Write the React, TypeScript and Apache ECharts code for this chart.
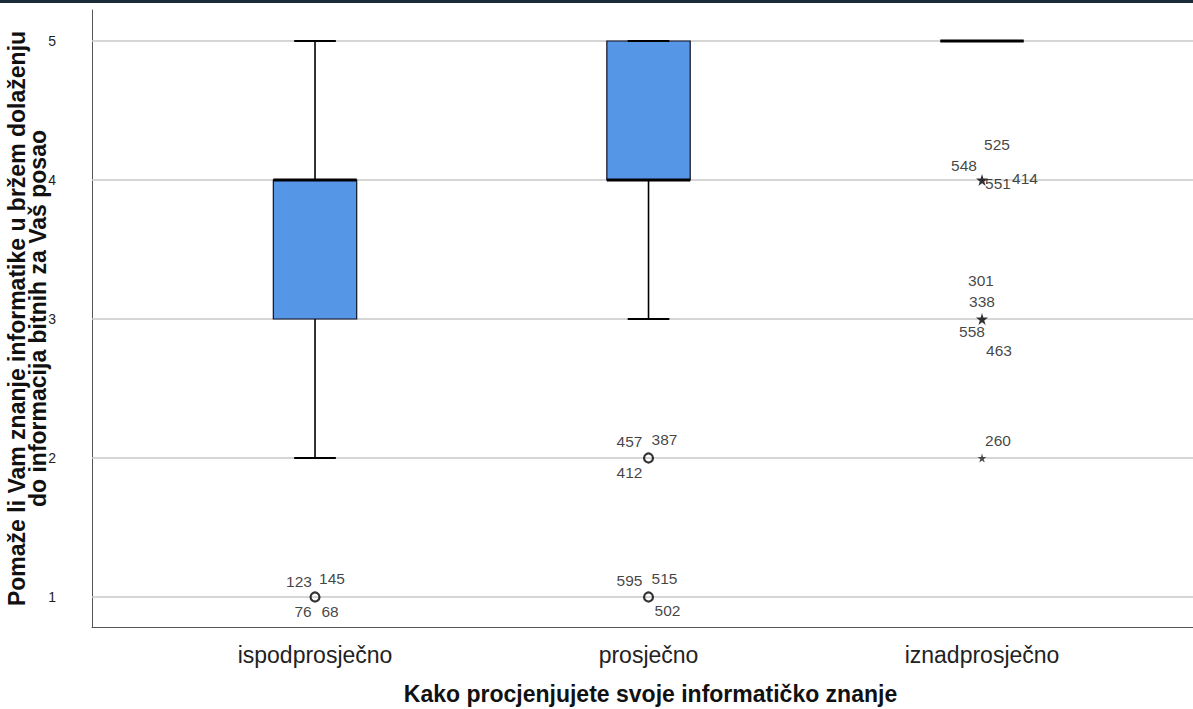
import React, { useEffect, useRef } from "react";
import * as echarts from "echarts";

// ---- data ----
const categories = ["ispodprosječno", "prosječno", "iznadprosječno"];
// [category position, min, Q1, median, Q3, max]
const boxStats = [
  [1, 2, 3, 4, 4, 5],
  [2, 3, 4, 4, 5, 5],
  [3, 5, 5, 5, 5, 5],
];
// outliers (circles) and extremes (stars): [category position, value]
const outliers = [
  [1, 1],
  [2, 2],
  [2, 1],
];
const extremes = [
  [3, 4],
  [3, 3],
];
const extremesSmall = [[3, 2]];
// case labels: [category position, value, case id]
const caseLabels: [number, number, string][] = [
  [1, 1, "123"], [1, 1, "145"], [1, 1, "76"], [1, 1, "68"],
  [2, 2, "457"], [2, 2, "387"], [2, 2, "412"],
  [2, 1, "595"], [2, 1, "515"], [2, 1, "502"],
  [3, 4, "525"], [3, 4, "548"], [3, 4, "551"], [3, 4, "414"],
  [3, 3, "301"], [3, 3, "338"], [3, 3, "558"], [3, 3, "463"],
  [3, 2, "260"],
];
const yTicks = [1, 2, 3, 4, 5];
const xTicks = [1, 2, 3];

// ---- label placement (pixels, relative to point) ----
const labelOffsets: Record<string, [number, number]> = {
  "123": [-16, -15], "145": [17, -18], "76": [-12, 15], "68": [15, 15],
  "457": [-19, -16], "387": [16, -18], "412": [-19, 15],
  "595": [-19, -16], "515": [16, -18], "502": [19, 14],
  "525": [15, -35], "548": [-18, -14], "551": [16, 4], "414": [43, -1],
  "301": [-1, -38], "338": [0, -17], "558": [-10, 13], "463": [17, 32],
  "260": [16, -17],
};

const STAR = "path://M50,0 L61,35 L98,35 L68,57 L79,91 L50,70 L21,91 L32,57 L2,35 L39,35 Z";
const FONT = "'Liberation Sans', Arial, sans-serif";

export default function App() {
  const ref = useRef<HTMLDivElement>(null);
  useEffect(() => {
    if (!ref.current) return;
    const chart = echarts.init(ref.current, null, { renderer: "svg" });
    const option: any = {
      animation: false,
      backgroundColor: "#ffffff",
      textStyle: { fontFamily: FONT },
      grid: { left: 92, right: 0, top: 10, bottom: 82, containLabel: false, outerBoundsMode: "none" },
      graphic: [
        {
          type: "rect",
          left: 0,
          top: 0,
          shape: { width: 1193, height: 3 },
          style: { fill: "#1c2b38" },
          silent: true,
        },
      ],
      xAxis: {
        type: "value",
        min: 0.3313,
        max: 3.6326,
        axisLine: { show: true, onZero: false, lineStyle: { color: "#555", width: 1 } },
        axisTick: { show: false },
        splitLine: { show: false },
        axisLabel: {
          customValues: xTicks,
          formatter: (v: number) => categories[Math.round(v) - 1] ?? "",
          fontSize: 23,
          color: "#222",
          margin: 16,
          fontFamily: FONT,
        },
        name: "Kako procjenjujete svoje informatičko znanje",
        nameLocation: "middle",
        nameGap: 55,
        nameMoveOverlap: false,
        nameTextStyle: {
          fontSize: 23,
          fontWeight: "bold",
          color: "#111",
          fontFamily: FONT,
          padding: [0, 0, 0, 16],
        },
      },
      yAxis: {
        type: "value",
        min: 0.784,
        max: 5.223,
        axisLine: { show: true, onZero: false, lineStyle: { color: "#555", width: 1 } },
        axisTick: { show: false },
        splitLine: { show: false },
        axisLabel: {
          customValues: yTicks,
          fontSize: 14,
          color: "#222",
          margin: 36,
          fontFamily: FONT,
          hideOverlap: false,
        },
        name: "Pomaže li Vam znanje informatike u bržem dolaženju\ndo informacija bitnih za Vaš posao",
        nameLocation: "middle",
        nameRotate: 90,
        nameGap: 44,
        nameMoveOverlap: false,
        nameTextStyle: { fontSize: 23, fontWeight: "bold", color: "#111", lineHeight: 21, fontFamily: FONT },
      },
      series: [
        {
          type: "custom",
          z: 3,
          data: boxStats,
          renderItem: (params: any, api: any) => {
            const x = api.value(0);
            const bw = api.size([0.25, 0])[0];
            const cw = bw / 2;
            const pMin = api.coord([x, api.value(1)]);
            const pQ1 = api.coord([x, api.value(2)]);
            const pMed = api.coord([x, api.value(3)]);
            const pQ3 = api.coord([x, api.value(4)]);
            const pMax = api.coord([x, api.value(5)]);
            const cx = pMed[0];
            const lineStyle = { stroke: "#000", lineWidth: 1.6 };
            return {
              type: "group",
              children: [
                { type: "line", shape: { x1: cx, y1: pQ3[1], x2: cx, y2: pMax[1] }, style: lineStyle },
                { type: "line", shape: { x1: cx, y1: pQ1[1], x2: cx, y2: pMin[1] }, style: lineStyle },
                {
                  type: "rect",
                  shape: { x: cx - bw / 2, y: pQ3[1], width: bw, height: pQ1[1] - pQ3[1] },
                  style: { fill: "#5596e6", stroke: "#111122", lineWidth: 1.2 },
                },
                { type: "line", shape: { x1: cx - cw / 2, y1: pMax[1], x2: cx + cw / 2, y2: pMax[1] }, style: { stroke: "#000", lineWidth: 2 } },
                { type: "line", shape: { x1: cx - cw / 2, y1: pMin[1], x2: cx + cw / 2, y2: pMin[1] }, style: { stroke: "#000", lineWidth: 2 } },
                { type: "line", shape: { x1: cx - bw / 2, y1: pMed[1], x2: cx + bw / 2, y2: pMed[1] }, style: { stroke: "#000", lineWidth: 3 } },
              ],
            };
          },
          markLine: {
            silent: true,
            z: 1,
            symbol: ["none", "none"],
            label: { show: false },
            lineStyle: { color: "#c8c8c8", width: 1.5, type: "solid" },
            data: yTicks.map((v) => ({ yAxis: v })),
          },
        },
        {
          type: "scatter",
          z: 4,
          data: outliers,
          symbol: "circle",
          symbolSize: 9,
          itemStyle: { color: "rgba(255,255,255,0)", borderColor: "#000", borderWidth: 2.2 },
        },
        {
          type: "scatter",
          z: 4,
          data: extremes,
          symbol: STAR,
          symbolSize: 12,
          itemStyle: { color: "#000" },
        },
        {
          type: "scatter",
          z: 4,
          data: extremesSmall,
          symbol: STAR,
          symbolSize: 9,
          itemStyle: { color: "#222" },
        },
        {
          type: "scatter",
          z: 5,
          symbolSize: 0,
          silent: true,
          data: caseLabels.map(([x, y, id]) => ({
            value: [x, y],
            name: id,
            label: { offset: labelOffsets[id] || [0, 0] },
          })),
          label: {
            show: true,
            position: "inside",
            formatter: (p: any) => p.name,
            fontSize: 15.5,
            color: "#111",
            fontFamily: FONT,
          },
        },
      ],
    };
    chart.setOption(option);
    return () => chart.dispose();
  }, []);
  return (
    <div
      ref={ref}
      style={{ position: "fixed", left: 0, top: 0, width: 1193, height: 709 }}
    />
  );
}
